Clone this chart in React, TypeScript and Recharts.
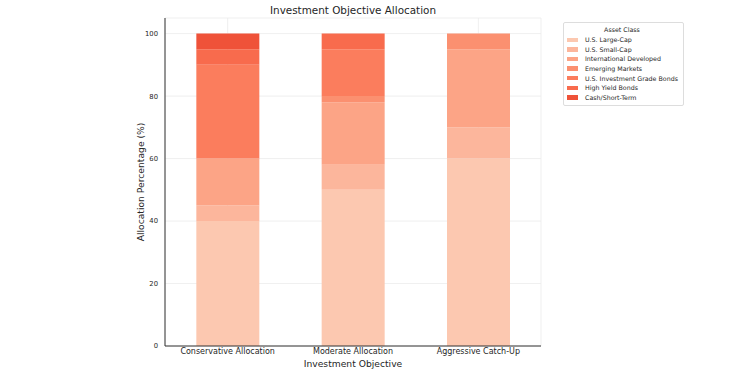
import React from 'react';
import { BarChart, Bar, XAxis, YAxis, CartesianGrid } from 'recharts';

const categories = ['Conservative Allocation', 'Moderate Allocation', 'Aggressive Catch-Up'];
const largeCap = [40, 50, 60];
const smallCap = [5, 8, 10];
const intlDeveloped = [15, 20, 25];
const emergingMarkets = [0, 2, 5];
const igBonds = [30, 15, 0];
const highYield = [5, 5, 0];
const cashShortTerm = [5, 0, 0];
const yTicks = [0, 20, 40, 60, 80, 100];

const seriesNames = [
  'U.S. Large-Cap',
  'U.S. Small-Cap',
  'International Developed',
  'Emerging Markets',
  'U.S. Investment Grade Bonds',
  'High Yield Bonds',
  'Cash/Short-Term',
];
const seriesValues = [largeCap, smallCap, intlDeveloped, emergingMarkets, igBonds, highYield, cashShortTerm];
const colors = ['#fcc8b0', '#fcb69c', '#fca486', '#fb9070', '#fb7d5d', '#f86b4d', '#ef5239'];

const data = categories.map((c, i) => {
  const row: Record<string, string | number> = { name: c };
  seriesNames.forEach((s, j) => {
    row[s] = seriesValues[j][i];
  });
  return row;
});

const FONT = 'DejaVu Sans, sans-serif';

const LegendBox = () => (
  <div
    style={{
      position: 'absolute',
      left: 563,
      top: 22,
      border: '1px solid #dddddd',
      borderRadius: 2,
      background: '#fff',
      padding: '2px 6px 3px 3px',
      fontFamily: FONT,
      fontSize: 6.3,
      color: '#262626',
      width: 121,
      boxSizing: 'border-box',
    }}
  >
    <div style={{ textAlign: 'center', lineHeight: '9px', marginBottom: 1 }}>Asset Class</div>
    {seriesNames.map((s, j) => (
      <div key={s} style={{ display: 'flex', alignItems: 'center', height: 9.6 }}>
        <span style={{ display: 'inline-block', width: 11, height: 4.5, background: colors[j], marginRight: 7, flexShrink: 0 }} />
        <span style={{ whiteSpace: 'nowrap' }}>{s}</span>
      </div>
    ))}
  </div>
);

export default function App() {
  return (
    <div style={{ position: 'absolute', left: 0, top: 0, width: 750, height: 375, background: '#fff' }}>
      <div
        style={{
          position: 'absolute',
          left: 165,
          width: 376,
          top: 4,
          textAlign: 'center',
          fontFamily: FONT,
          fontSize: 10.4,
          color: '#262626',
        }}
      >
        Investment Objective Allocation
      </div>
      <BarChart
        width={750}
        height={375}
        data={data}
        margin={{ top: 18, right: 209, bottom: 0, left: 0 }}
        barCategoryGap="25%"
      >
        <CartesianGrid stroke="#ebebeb" strokeWidth={0.8} />
        <XAxis
          dataKey="name"
          tick={{ fontSize: 8, fill: '#262626', fontFamily: FONT }}
          tickLine={false}
          tickSize={2}
          axisLine={{ stroke: '#333333', strokeWidth: 1 }}
          tickMargin={0}
          height={29}
          label={{ value: 'Investment Objective', position: 'insideBottom', offset: 8, fontSize: 9.2, fill: '#262626', fontFamily: FONT }}
        />
        <YAxis
          width={165}
          domain={[0, 105]}
          ticks={yTicks}
          tick={{ fontSize: 6.8, fill: '#262626', fontFamily: FONT }}
          tickLine={false}
          tickSize={3}
          tickMargin={4}
          axisLine={{ stroke: '#333333', strokeWidth: 1 }}
          label={{
            value: 'Allocation Percentage (%)',
            angle: -90,
            position: 'center',
            dx: 58,
            style: { textAnchor: 'middle', fontSize: 9.2, fill: '#262626', fontFamily: FONT },
          }}
        />
        {seriesNames.map((s, j) => (
          <Bar key={s} dataKey={s} stackId="a" fill={colors[j]} isAnimationActive={false} />
        ))}
      </BarChart>
      <LegendBox />
    </div>
  );
}
